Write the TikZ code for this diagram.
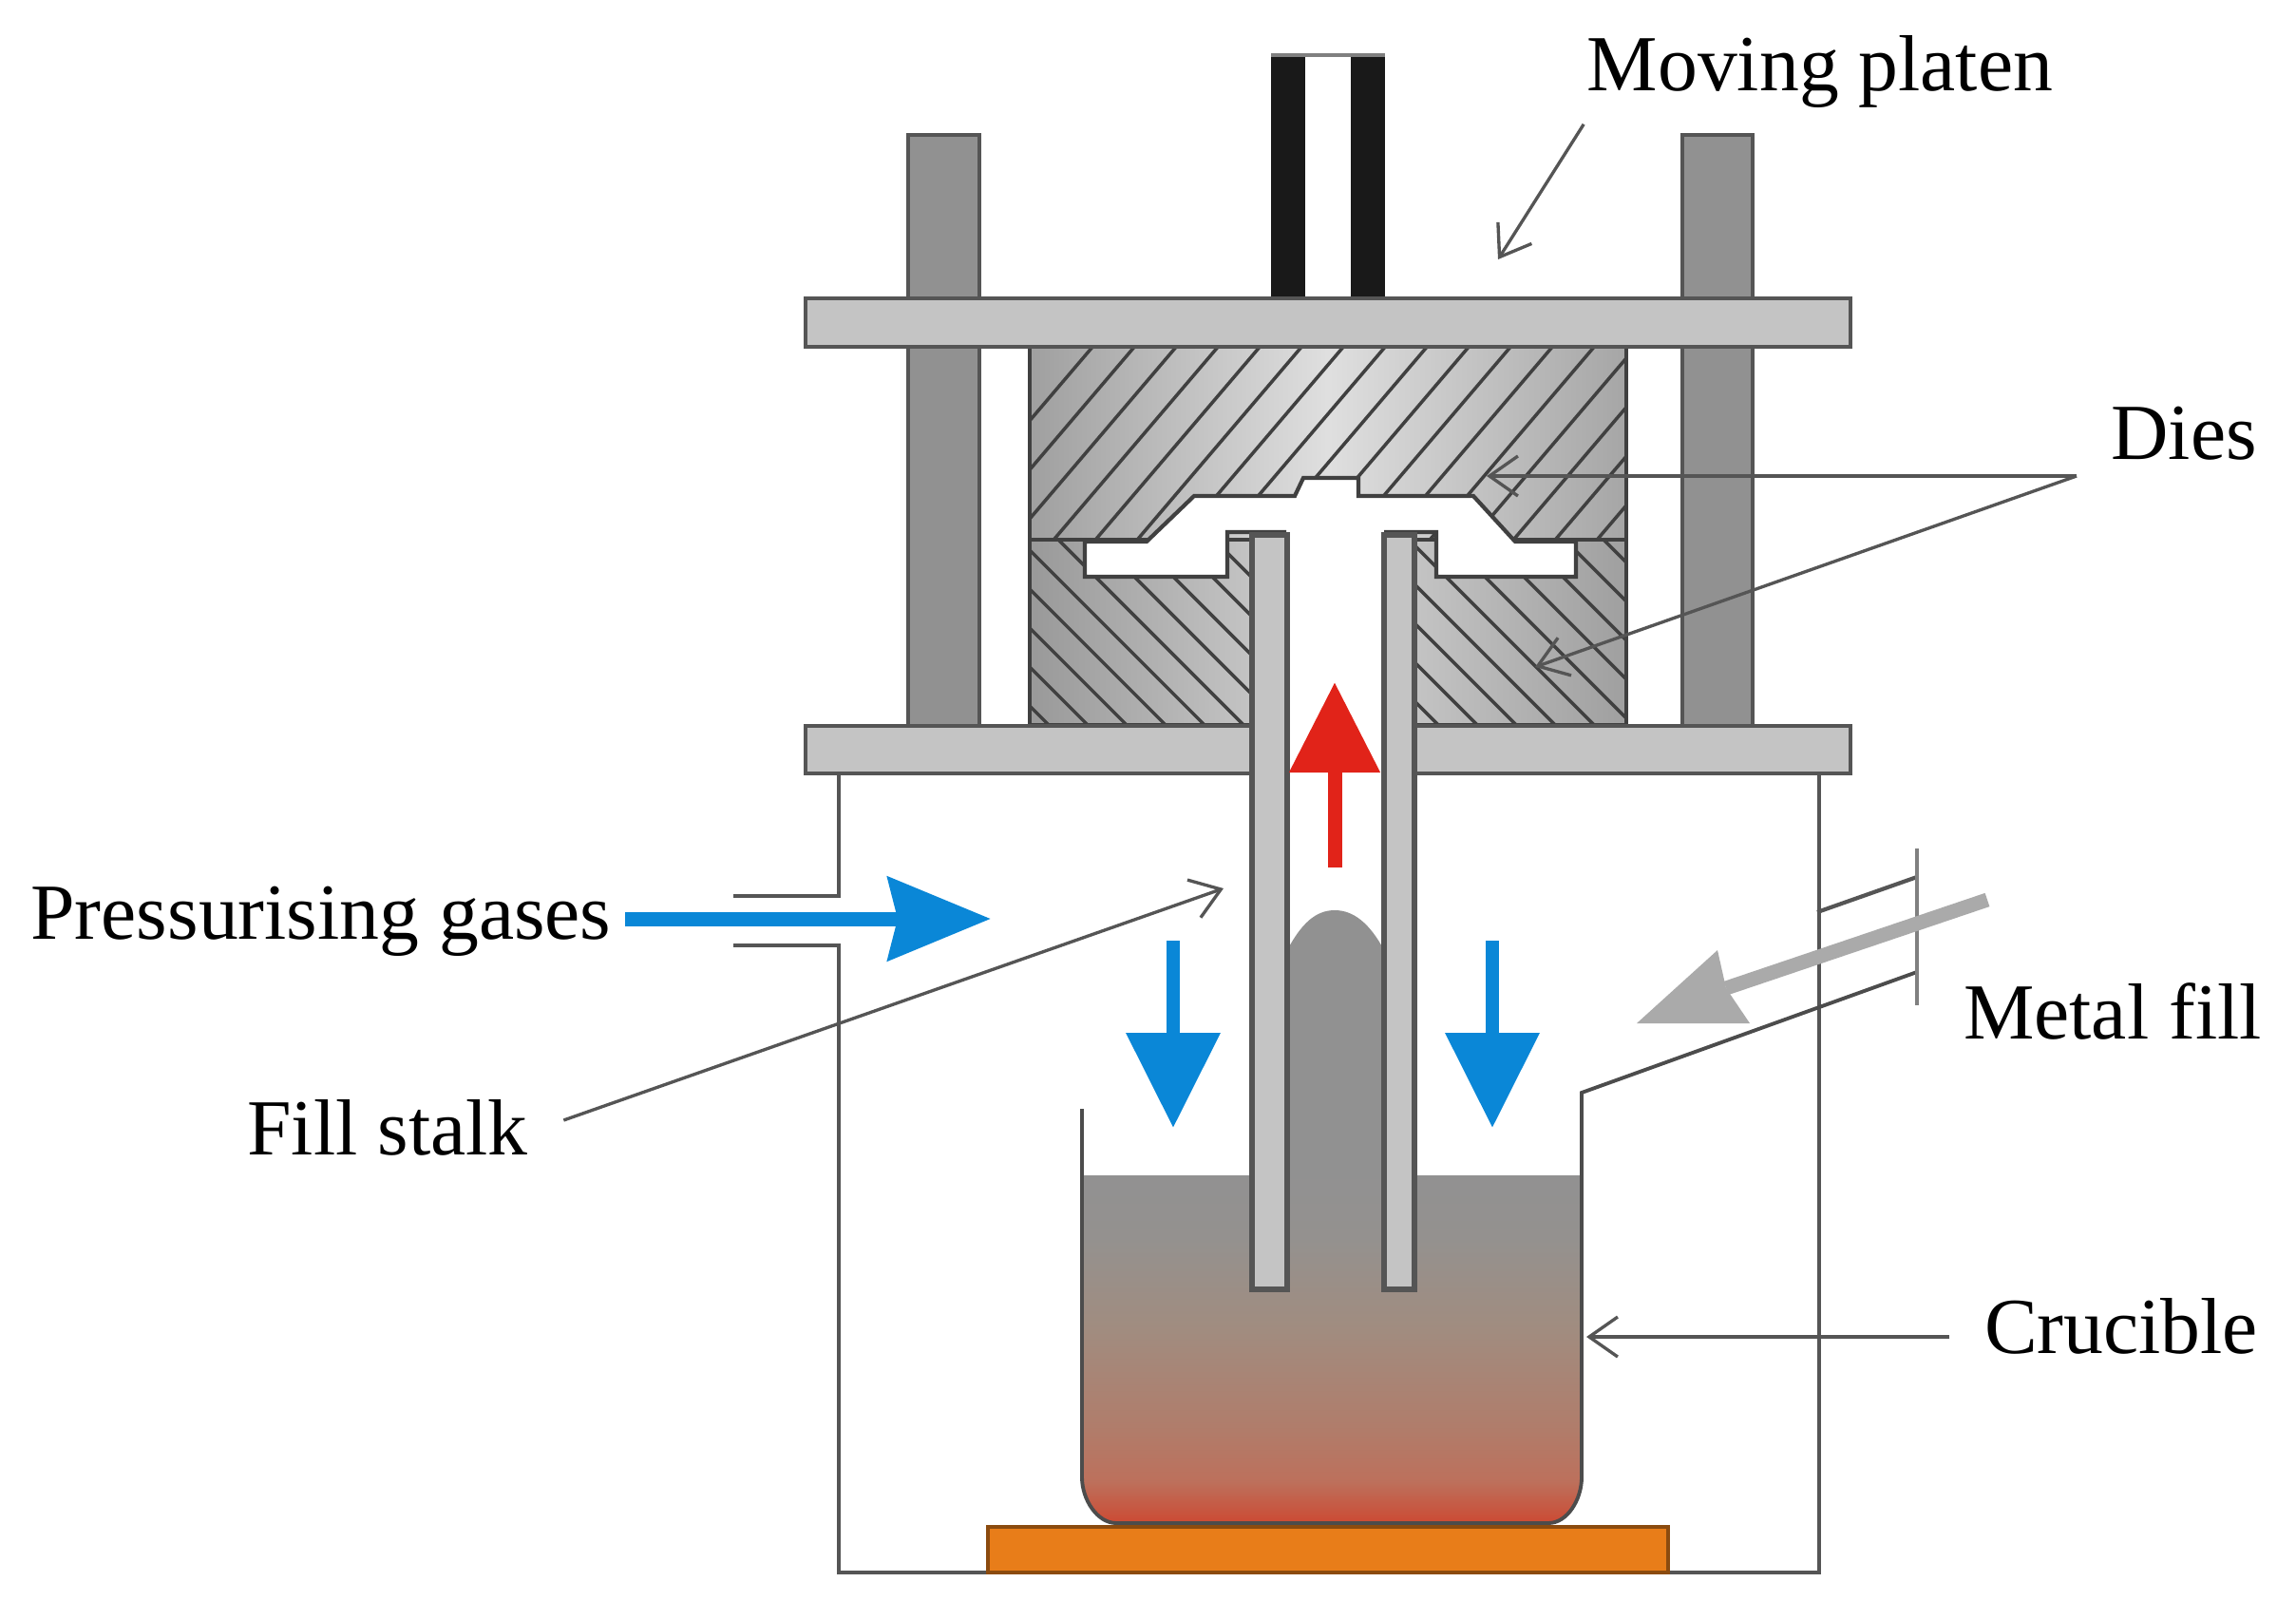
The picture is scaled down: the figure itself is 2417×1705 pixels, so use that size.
\documentclass[tikz,border=0pt]{standalone}
\usepackage{fontspec}
\setmainfont{Liberation Serif}
\usetikzlibrary{arrows.meta}
\definecolor{linegray}{RGB}{85,85,85}
\definecolor{platefill}{RGB}{196,196,196}
\definecolor{guidefill}{RGB}{145,145,145}
\definecolor{metalgray}{RGB}{145,145,145}
\definecolor{flowblue}{RGB}{10,135,215}
\definecolor{flowred}{RGB}{225,35,25}
\definecolor{fillgray}{RGB}{170,170,170}
\definecolor{heater}{RGB}{232,125,25}
\pgfdeclareverticalshading{meltshade}{100bp}{
  rgb(0bp)=(0.80,0.29,0.20);
  rgb(25bp)=(0.80,0.29,0.20);
  rgb(31bp)=(0.74,0.44,0.36);
  rgb(39bp)=(0.69,0.49,0.42);
  rgb(53bp)=(0.63,0.55,0.50);
  rgb(66bp)=(0.58,0.57,0.56);
  rgb(75bp)=(0.57,0.57,0.57);
  rgb(100bp)=(0.57,0.57,0.57)}
\begin{document}
\begin{tikzpicture}[x=0.1mm, y=-0.1mm, >=stealth,
    wall/.style={draw=linegray, line width=1.2pt},
    plate/.style={draw=linegray, fill=platefill, line width=1.3pt},
    guide/.style={draw=linegray, fill=guidefill, line width=1.1pt},
    tube/.style={draw=linegray, fill=platefill, line width=1.5pt},
    hatch/.style={draw=black!75, line width=1pt},
    leader/.style={draw=linegray, line width=0.95pt, -{Straight Barb[length=3mm,width=4.2mm]}},
    callout/.style={font=\fontsize{23.8}{28}\selectfont, inner sep=4pt}]

  % ---- page
  \fill[white] (0,0) rectangle (2417,1705);
  \useasboundingbox (0,0) rectangle (2417,1705);

  % ---- pressure chamber
  \draw[wall] (772,943) -- (883,943) -- (883,813);
  \draw[wall] (772,995) -- (883,995) -- (883,1655) -- (1915,1655) -- (1915,813);

  % ---- ram and guide posts
  \fill[black!90] (1338,57) rectangle (1458,316);
  \fill[white] (1374,60) rectangle (1422,316);
  \draw[draw=gray, line width=1.4pt] (1338,58) -- (1458,58);
  \draw[guide] (956,142) rectangle (1031,765);
  \draw[guide] (1771,142) rectangle (1845,765);

  % ---- dies, hatched
  \shade[left color=gray!75, right color=gray!70, middle color=gray!25]
    (1084,365) rectangle (1712,568);
  \shade[left color=gray!80, right color=gray!75, middle color=gray!35]
    (1084,568) rectangle (1712,763);
  \begin{scope}
    \clip (1084,365) rectangle (1712,568);
    \foreach \k in {950,994,...,1720}
      \draw[hatch] (\k,600) -- ++(230,-270);
  \end{scope}
  \begin{scope}
    \clip (1084,568) rectangle (1712,763);
    \foreach \k in {860,901,...,1715}
      \draw[hatch] (\k,560) -- ++(220,220);
  \end{scope}
  \draw[draw=black!75, line width=1.3pt] (1084,365) rectangle (1712,763);
  \draw[draw=black!75, line width=1.3pt] (1084,568) -- (1712,568);

  % ---- die cavity
  \fill[white] (1354,555) rectangle (1457,957);
  \draw[fill=white, draw=black!75, line width=1.2pt]
    (1354,560) -- (1292,560) -- (1292,607) -- (1142,607) -- (1142,570)
    -- (1207,570) -- (1257,522) -- (1363,522) -- (1372,503)
    -- (1430,503) -- (1430,522) -- (1551,522) -- (1595,570) -- (1659,570)
    -- (1659,607) -- (1512,607) -- (1512,560) -- (1457,560);

  % ---- platens
  \draw[plate] (848,314) rectangle (1948,365);
  \draw[plate] (848,764) rectangle (1948,814);
  \fill[white] (1350,745) rectangle (1460,830);

  % ---- crucible and melt
  \fill[shading=meltshade]
    (1139,1237) -- (1139,1555) .. controls (1139,1578) and (1155,1603) .. (1175,1603)
    -- (1630,1603) .. controls (1650,1603) and (1665,1578) .. (1665,1555)
    -- (1665,1237) -- cycle;
  \fill[metalgray] (1355,1240) -- (1355,1000)
    .. controls (1370,972) and (1385,958) .. (1405,958)
    .. controls (1425,958) and (1442,972) .. (1457,1000) -- (1457,1240) -- cycle;
  \fill[heater] (1040,1607) rectangle (1756,1657);
  \draw[draw=heater!60!black, line width=1.3pt] (1040,1655) -- (1040,1607) -- (1756,1607) -- (1756,1655) -- cycle;
  \draw[draw=black!70, line width=1.1pt] (1139,1167) -- (1139,1555)
    .. controls (1139,1578) and (1155,1603) .. (1175,1603)
    -- (1630,1603) .. controls (1650,1603) and (1665,1578) .. (1665,1555)
    -- (1665,1150) -- (2018,1023);

  % ---- metal fill pipe
  \draw[wall] (1913,960) -- (2018,923);
  \draw[draw=gray, line width=1.4pt] (2018,893) -- (2018,1058);

  % ---- fill stalk
  \draw[tube] (1318,563) rectangle (1355,1357);
  \draw[tube] (1457,563) rectangle (1489,1357);

  % ---- flow arrows
  \coordinate (riseA) at (1405,913);
  \coordinate (riseB) at (1405,718);
  \coordinate (dropA) at (1235,990);
  \coordinate (dropB) at (1235,1187);
  \coordinate (dropC) at (1571,990);
  \coordinate (dropD) at (1571,1187);
  \draw[flowred, line width=1.5mm, -{Triangle[length=9.5mm,width=9.2mm]}] (riseA) -- (riseB);
  \draw[flowblue, line width=1.4mm, -{Triangle[length=10mm,width=9.6mm]}] (dropA) -- (dropB);
  \draw[flowblue, line width=1.4mm, -{Triangle[length=10mm,width=9.6mm]}] (dropC) -- (dropD);

  % ---- metal fill arrow
  \coordinate (fillA) at (2092,947);
  \coordinate (fillB) at (1817,1040);
  \coordinate (fillC) at (1723,1077);
  \draw[fillgray, line width=1.5mm] (fillA) -- (fillB);
  \fill[fillgray] (fillC) -- (1808,1000) -- (fillB) -- (1842,1077) -- cycle;

  % ---- labels
  \node[callout] (platen) at (1916,76) {Moving platen};
  \node[callout] (dies) at (2299,456) {Dies};
  \node[callout] (gases) at (338,970) {Pressurising gases};
  \node[callout] (stalk) at (408,1187) {Fill stalk};
  \node[callout] (metal) at (2224,1064) {Metal fill};
  \node[callout] (crucible) at (2233,1396) {Crucible};

  % ---- leaders
  \coordinate (platenT) at (1577,273);
  \coordinate (diesF) at (2186,501);
  \coordinate (diesA) at (1565,501);
  \coordinate (diesB) at (1616,702);
  \coordinate (stalkT) at (1288,935);
  \coordinate (crucibleT) at (1670,1407);
  \coordinate (gasT) at (1043,967);
  \draw[leader] (platen.south west) ++(11,2) -- (platenT);
  \draw[leader] (diesF) -- (diesA);
  \draw[leader] (diesF) -- (diesB);
  \draw[leader] (stalk.east) ++(23,-8) -- (stalkT);
  \draw[leader] (crucible.west) ++(-22,11) -- (crucibleT);
  \draw[flowblue, line width=1.5mm, -{Stealth[length=10.8mm,width=8.7mm,inset=1mm]}] (gases.east |- gasT) -- (gasT);
\end{tikzpicture}
\end{document}
